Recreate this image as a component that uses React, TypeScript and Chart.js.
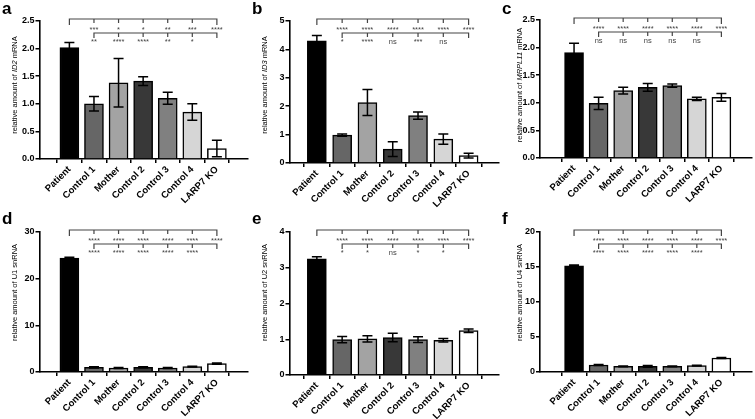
import React, { useEffect, useRef } from "react";
import { Chart, registerables } from "chart.js";

Chart.register(...registerables);

const FONT = "'Liberation Sans', Arial, Helvetica, sans-serif";

// ---------------- data ----------------
const categories = ["Patient", "Control 1", "Mother", "Control 2", "Control 3", "Control 4", "LARP7 KO"];

const id2Means = [2.02, 1.0, 1.38, 1.41, 1.1, 0.85, 0.19];
const id2Errors = [0.09, 0.13, 0.44, 0.08, 0.11, 0.15, 0.15];
const id2VsPatient = ["***", "*", "*", "**", "***", "****"];
const id2VsKO = ["**", "****", "****", "**", "*"];

const id3Means = [4.3, 0.98, 2.13, 0.49, 1.67, 0.84, 0.26];
const id3Errors = [0.19, 0.04, 0.46, 0.26, 0.13, 0.18, 0.08];
const id3VsPatient = ["****", "****", "****", "****", "****", "****"];
const id3VsKO = ["*", "****", "ns", "***", "ns"];

const mrpl11Means = [1.91, 0.99, 1.22, 1.28, 1.31, 1.07, 1.1];
const mrpl11Errors = [0.17, 0.11, 0.06, 0.07, 0.03, 0.03, 0.07];
const mrpl11VsPatient = ["****", "****", "****", "****", "****", "****"];
const mrpl11VsKO = ["ns", "ns", "ns", "ns", "ns"];

const u1Means = [24.4, 1.0, 0.85, 1.0, 0.85, 1.15, 1.8];
const u1Errors = [0.2, 0.12, 0.1, 0.1, 0.1, 0.1, 0.15];
const u1VsPatient = ["****", "****", "****", "****", "****", "****"];
const u1VsKO = ["****", "****", "****", "****", "****"];

const u2Means = [3.25, 0.99, 1.01, 1.05, 0.99, 0.97, 1.24];
const u2Errors = [0.06, 0.09, 0.09, 0.12, 0.08, 0.05, 0.05];
const u2VsPatient = ["****", "****", "****", "****", "****", "****"];
const u2VsKO = ["*", "*", "ns", "*", "*"];

const u4Means = [15.17, 1.0, 0.8, 0.8, 0.8, 0.9, 2.0];
const u4Errors = [0.1, 0.08, 0.05, 0.12, 0.05, 0.05, 0.08];
const u4VsPatient = ["****", "****", "****", "****", "****", "****"];
const u4VsKO = ["****", "****", "****", "****", "****"];

// ---------------- styles / layout ----------------
const barFill = ["#000000", "#666666", "#a3a3a3", "#383838", "#808080", "#d6d6d6", "#ffffff"];

const colGeom = [
  { left: 0, width: 250, axisX: 39.5, right: 248, xMin: -0.61, xMax: 6.66, titleX: 15 },
  { left: 250, width: 250, axisX: 39.5, right: 249, xMin: -0.49, xMax: 6.61, titleX: 15 },
  { left: 500, width: 255, axisX: 40, right: 252, xMin: -0.77, xMax: 6.63, titleX: 20 },
];
const rowGeom = [
  { top: 0, height: 210, titleY: 85 },
  { top: 210, height: 209, titleY: 82.5 },
];

type Panel = {
  letter: string;
  col: number;
  row: number;
  top: number;
  zero: number;
  means: number[];
  errors: number[];
  vsPatient: string[];
  vsKO: string[];
  yMax: number;
  yStep: number;
  decimals: number;
  gene: string;
  italic: boolean;
  suffix: string;
};

const panels: Panel[] = [
  { letter: "a", col: 0, row: 0, top: 21, zero: 159, means: id2Means, errors: id2Errors, vsPatient: id2VsPatient, vsKO: id2VsKO, yMax: 2.5, yStep: 0.5, decimals: 1, gene: "ID2", italic: true, suffix: " mRNA" },
  { letter: "b", col: 1, row: 0, top: 21, zero: 163, means: id3Means, errors: id3Errors, vsPatient: id3VsPatient, vsKO: id3VsKO, yMax: 5, yStep: 1, decimals: 0, gene: "ID3", italic: true, suffix: " mRNA" },
  { letter: "c", col: 2, row: 0, top: 20, zero: 158, means: mrpl11Means, errors: mrpl11Errors, vsPatient: mrpl11VsPatient, vsKO: mrpl11VsKO, yMax: 2.5, yStep: 0.5, decimals: 1, gene: "MRPL11", italic: true, suffix: " mRNA" },
  { letter: "d", col: 0, row: 1, top: 22, zero: 162, means: u1Means, errors: u1Errors, vsPatient: u1VsPatient, vsKO: u1VsKO, yMax: 30, yStep: 10, decimals: 0, gene: "U1", italic: false, suffix: " snRNA" },
  { letter: "e", col: 1, row: 1, top: 22, zero: 165, means: u2Means, errors: u2Errors, vsPatient: u2VsPatient, vsKO: u2VsKO, yMax: 4, yStep: 1, decimals: 0, gene: "U2", italic: false, suffix: " snRNA" },
  { letter: "f", col: 2, row: 1, top: 22, zero: 162, means: u4Means, errors: u4Errors, vsPatient: u4VsPatient, vsKO: u4VsKO, yMax: 20, yStep: 5, decimals: 0, gene: "U4", italic: false, suffix: " snRNA" },
];

function PanelChart({ p }: { p: Panel }) {
  const ref = useRef<HTMLCanvasElement>(null);
  const g = colGeom[p.col];
  const r = rowGeom[p.row];
  const W = g.width;
  const H = r.height;

  useEffect(() => {
    if (!ref.current) return;
    const xTickFont = { family: FONT, size: 9.5, weight: "bold" as const };
    const yTickFont = { family: FONT, size: 9, weight: "bold" as const };

    const decor = {
      id: "decor" + p.letter,
      afterDatasetsDraw(chart: any) {
        const { ctx, chartArea, scales } = chart;
        const xs = scales.x;
        const ys = scales.y;
        const px = (i: number) => xs.getPixelForValue(i);
        ctx.save();

        // error bars
        ctx.strokeStyle = "#000";
        ctx.lineWidth = 1.5;
        p.means.forEach((m, i) => {
          const x = px(i);
          const y1 = ys.getPixelForValue(m + p.errors[i]);
          const y2 = ys.getPixelForValue(Math.max(0, m - p.errors[i]));
          ctx.beginPath();
          ctx.moveTo(x, y1);
          ctx.lineTo(x, y2);
          ctx.moveTo(x - 5, y1);
          ctx.lineTo(x + 5, y1);
          ctx.moveTo(x - 5, y2);
          ctx.lineTo(x + 5, y2);
          ctx.stroke();
        });

        // significance brackets
        const t = chartArea.top;
        const b1 = t - 2;
        const b2 = t + 12;
        ctx.strokeStyle = "#444";
        ctx.lineWidth = 1.2;
        ctx.beginPath();
        ctx.moveTo(px(0), b1 + 6);
        ctx.lineTo(px(0), b1);
        ctx.lineTo(px(6), b1);
        ctx.lineTo(px(6), b1 + 6);
        for (let i = 1; i <= 5; i++) {
          ctx.moveTo(px(i), b1);
          ctx.lineTo(px(i), b1 + 4);
        }
        ctx.moveTo(px(1), b2 + 5);
        ctx.lineTo(px(1), b2);
        ctx.lineTo(px(6), b2);
        ctx.lineTo(px(6), b2 + 5);
        for (let i = 2; i <= 5; i++) {
          ctx.moveTo(px(i), b2);
          ctx.lineTo(px(i), b2 + 4);
        }
        ctx.stroke();

        ctx.fillStyle = "#444";
        ctx.font = `7.5px ${FONT}`;
        ctx.textAlign = "center";
        ctx.textBaseline = "alphabetic";
        p.vsPatient.forEach((s, i) => ctx.fillText(s, px(i + 1), t + 11));
        p.vsKO.forEach((s, i) => ctx.fillText(s, px(i + 1), t + 23));

        // y-axis title with italic gene name
        ctx.fillStyle = "#000";
        ctx.translate(g.titleX, r.titleY);
        ctx.rotate(-Math.PI / 2);
        const segs = [
          { text: "relative amount of ", italic: false },
          { text: p.gene, italic: p.italic },
          { text: p.suffix, italic: false },
        ];
        let total = 0;
        const widths = segs.map((s) => {
          ctx.font = `${s.italic ? "italic " : ""}7.5px ${FONT}`;
          const w = ctx.measureText(s.text).width;
          total += w;
          return w;
        });
        let xx = -total / 2;
        ctx.textAlign = "left";
        ctx.textBaseline = "middle";
        segs.forEach((s, i) => {
          ctx.font = `${s.italic ? "italic " : ""}7.5px ${FONT}`;
          ctx.fillText(s.text, xx, 0);
          xx += widths[i];
        });
        ctx.restore();

        // panel letter
        ctx.save();
        ctx.fillStyle = "#000";
        ctx.font = `bold 17px ${FONT}`;
        ctx.textAlign = "left";
        ctx.textBaseline = "alphabetic";
        ctx.fillText(p.letter, 2, 14);
        ctx.restore();
      },
    };

    const chart = new Chart(ref.current, {
      type: "bar",
      data: {
        datasets: [
          {
            data: p.means.map((v, i) => ({ x: i, y: v })),
            backgroundColor: barFill,
            borderColor: "#000",
            borderWidth: 1.5,
            borderSkipped: "start",
            barThickness: 19,
          } as any,
        ],
      },
      options: {
        responsive: false,
        animation: false,
        devicePixelRatio: 1,
        layout: { padding: { top: p.top, right: W - g.right, left: 0, bottom: 0 } },
        plugins: { legend: { display: false }, tooltip: { enabled: false } },
        scales: {
          x: {
            type: "linear",
            bounds: "data",
            min: g.xMin,
            max: g.xMax,
            afterBuildTicks: (s: any) => {
              s.ticks = categories.map((_, i) => ({ value: i }));
            },
            afterFit: (s: any) => {
              s.height = H - p.zero;
            },
            ticks: {
              autoSkip: false,
              minRotation: 45,
              maxRotation: 45,
              padding: 1,
              color: "#000",
              font: xTickFont,
              callback: (v: any) => categories[Math.round(Number(v))] ?? "",
            },
            grid: { display: true, drawOnChartArea: false, drawTicks: true, tickLength: 4, color: "#000", lineWidth: 1.5 },
            border: { display: true, color: "#000", width: 1.6 },
          },
          y: {
            type: "linear",
            min: 0,
            max: p.yMax,
            afterFit: (s: any) => {
              s.width = g.axisX;
            },
            ticks: {
              stepSize: p.yStep,
              padding: 1,
              color: "#000",
              font: yTickFont,
              callback: (v: any) => Number(v).toFixed(p.decimals),
            },
            grid: { display: true, drawOnChartArea: false, drawTicks: true, tickLength: 4, color: "#000", lineWidth: 1.5 },
            border: { display: true, color: "#000", width: 1.6 },
          },
        },
      } as any,
      plugins: [decor],
    });
    return () => chart.destroy();
  }, []);

  return (
    <canvas
      ref={ref}
      width={W}
      height={H}
      style={{ position: "absolute", left: g.left, top: r.top, width: W, height: H }}
    />
  );
}

export default function App() {
  return (
    <div
      style={{
        position: "fixed",
        left: 0,
        top: 0,
        width: 755,
        height: 419,
        background: "#fff",
        overflow: "hidden",
      }}
    >
      {panels.map((p) => (
        <PanelChart key={p.letter} p={p} />
      ))}
    </div>
  );
}
